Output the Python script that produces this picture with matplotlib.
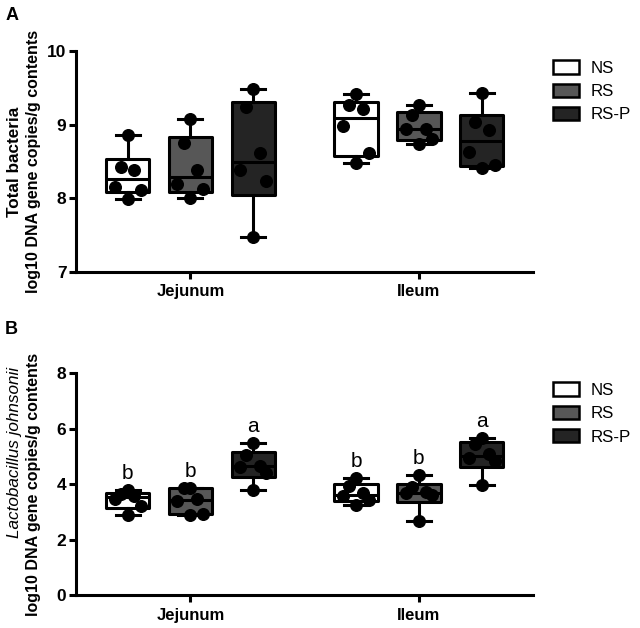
import numpy as np
import matplotlib
matplotlib.use("Agg")
import matplotlib.pyplot as plt
from matplotlib.patches import Patch

plt.rcParams["font.family"] = ["Liberation Sans", "DejaVu Sans"]

# ---- data ----
sites = ["Jejunum", "Ileum"]
groups = ["NS", "RS", "RS-P"]

total_jejunum_ns = [8.86, 8.43, 8.38, 8.15, 8.11, 7.99]
total_jejunum_rs = [9.08, 8.75, 8.39, 8.19, 8.12, 8.00]
total_jejunum_rsp = [9.48, 9.24, 8.61, 8.38, 8.24, 7.47]
total_ileum_ns = [9.41, 9.27, 9.21, 8.98, 8.61, 8.48]
total_ileum_rs = [9.27, 9.13, 8.94, 8.94, 8.81, 8.74]
total_ileum_rsp = [9.43, 9.03, 8.93, 8.63, 8.45, 8.41]

lj_jejunum_ns = [3.80, 3.64, 3.58, 3.45, 3.22, 2.90]
lj_jejunum_rs = [3.85, 3.84, 3.45, 3.40, 2.92, 2.90]
lj_jejunum_rsp = [5.48, 5.05, 4.65, 4.62, 4.39, 3.79]
lj_ileum_ns = [4.21, 3.93, 3.66, 3.58, 3.42, 3.25]
lj_ileum_rs = [4.33, 3.89, 3.70, 3.67, 3.61, 2.65]
lj_ileum_rsp = [5.66, 5.45, 5.10, 4.95, 4.82, 3.97]

lj_letters = [["b", "b", "a"], ["b", "b", "a"]]

# ---- style ----
colors = ["white", "#575757", "#242424"]
offsets = [-0.275, 0.0, 0.275]
box_w = 0.19
jitter = [0.0, -0.03, 0.03, -0.057, 0.057, 0.0]
LW = 2.2


def box_stats(vals):
    v = np.asarray(vals)
    q1, med, q3 = np.percentile(v, [25, 50, 75], method="weibull")
    return dict(med=med, q1=q1, q3=q3, whislo=v.min(), whishi=v.max(), fliers=[])


def draw_panel(ax, data, ylim, yticks, letters=None):
    for si, site in enumerate(data):
        for gi, vals in enumerate(site):
            x = si + offsets[gi]
            ax.bxp([box_stats(vals)], positions=[x], widths=box_w,
                   patch_artist=True, showfliers=False, capwidths=box_w * 0.55,
                   boxprops=dict(facecolor=colors[gi], edgecolor="black",
                                 linewidth=LW, joinstyle="round"),
                   medianprops=dict(color="black", linewidth=LW),
                   whiskerprops=dict(color="black", linewidth=LW),
                   capprops=dict(color="black", linewidth=LW))
            srt = sorted(vals, reverse=True)
            xs = [x + jitter[i % len(jitter)] for i in range(len(srt))]
            ax.scatter(xs, srt, s=70, color="black", zorder=5)
            if letters is not None:
                ax.text(x, max(vals) + 0.25, letters[si][gi], ha="center",
                        va="bottom", fontsize=15)
    ax.set_xlim(-0.5, 1.5)
    ax.set_ylim(*ylim)
    ax.set_yticks(yticks)
    ax.set_xticks(range(len(sites)))
    ax.set_xticklabels(sites, fontsize=12, fontweight="bold")
    for lab in ax.get_yticklabels():
        lab.set_fontweight("bold")
        lab.set_fontsize(12.5)
    for s in ["top", "right"]:
        ax.spines[s].set_visible(False)
    for s in ["left", "bottom"]:
        ax.spines[s].set_linewidth(LW)
        ax.spines[s].set_capstyle("projecting")
    ax.tick_params(axis="both", width=LW, length=5)
    ax.tick_params(axis="x", pad=4)
    ax.tick_params(axis="y", pad=2)
    handles = [Patch(facecolor=c, edgecolor="black", linewidth=1.8, label=g)
               for c, g in zip(colors, groups)]
    return handles


fig = plt.figure(figsize=(6.4, 6.28), dpi=100)
axA = fig.add_axes([0.119, 0.567, 0.714, 0.352])
axB = fig.add_axes([0.119, 0.0525, 0.714, 0.3535])

hA = draw_panel(axA, [[total_jejunum_ns, total_jejunum_rs, total_jejunum_rsp],
                      [total_ileum_ns, total_ileum_rs, total_ileum_rsp]],
                (7, 10), [7, 8, 9, 10])
hB = draw_panel(axB, [[lj_jejunum_ns, lj_jejunum_rs, lj_jejunum_rsp],
                      [lj_ileum_ns, lj_ileum_rs, lj_ileum_rsp]],
                (0, 8), [0, 2, 4, 6, 8], letters=lj_letters)

for h, y in [(hA, 0.904), (hB, 0.391)]:
    fig.legend(handles=h, loc="upper left", bbox_to_anchor=(0.864, y),
               frameon=False, fontsize=12.2, handlelength=1.55, handleheight=0.85,
               handletextpad=0.7, labelspacing=0.45, borderpad=0,
               borderaxespad=0)

# y labels
fig.text(0.022, 0.743, "Total bacteria", rotation=90, ha="center", va="center",
         fontsize=12.3, fontweight="bold")
fig.text(0.052, 0.743, "log10 DNA gene copies/g contents", rotation=90,
         ha="center", va="center", fontsize=11.5, fontweight="bold")
fig.text(0.022, 0.28, "Lactobacillus johnsonii", rotation=90, ha="center",
         va="center", fontsize=12.3, fontstyle="italic")
fig.text(0.052, 0.229, "log10 DNA gene copies/g contents", rotation=90,
         ha="center", va="center", fontsize=11.5, fontweight="bold")

fig.text(0.008, 0.975, "A", fontsize=13, fontweight="bold", va="center")
fig.text(0.008, 0.475, "B", fontsize=13, fontweight="bold", va="center")

fig.savefig("out.png", dpi=100)
